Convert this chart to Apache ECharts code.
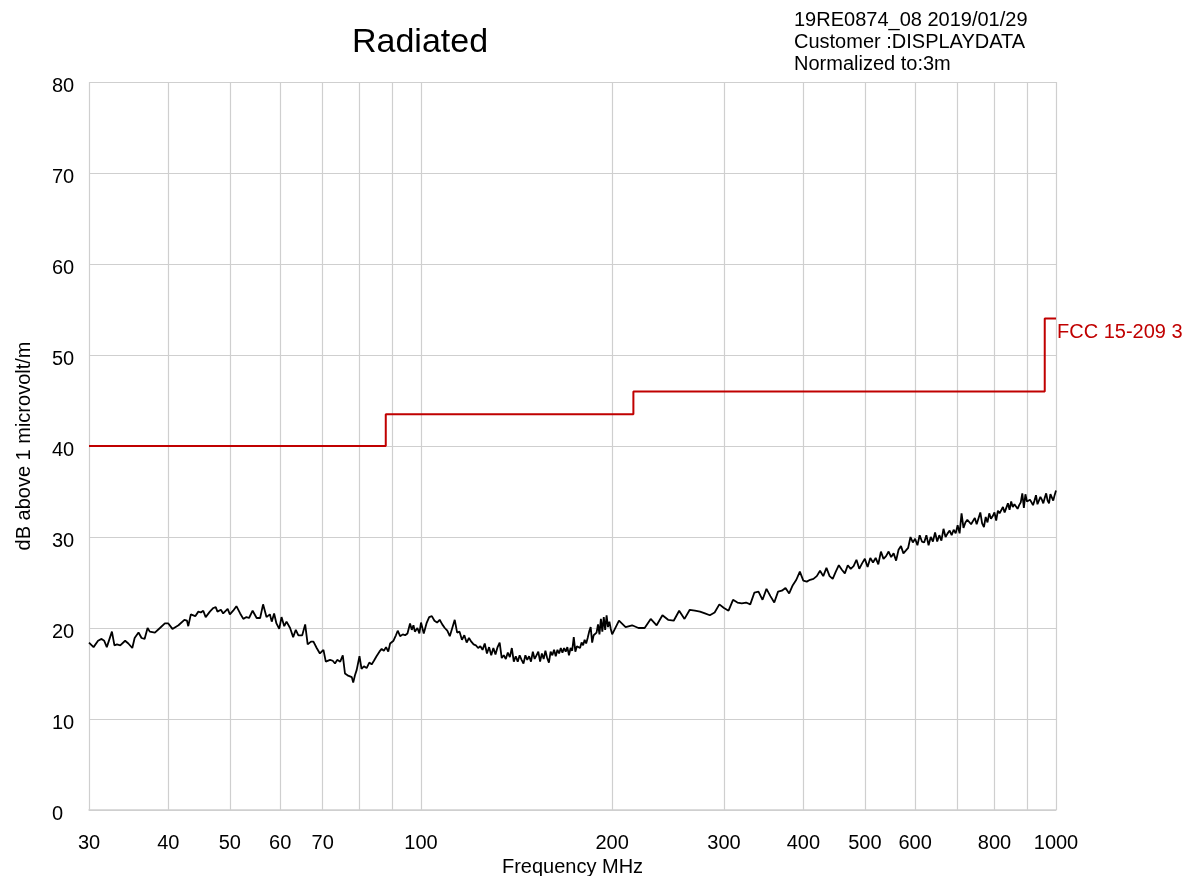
<!DOCTYPE html>
<html>
<head>
<meta charset="utf-8">
<title>Radiated</title>
<script src="https://cdn.jsdelivr.net/npm/echarts@6/dist/echarts.min.js"></script>
<style>
  html, body { margin: 0; padding: 0; background: #fff; }
  #chart { width: 1183px; height: 876px; }
</style>
</head>
<body>
<div id="chart"></div>
<script>
// 30-100 MHz, [MHz, dBuV/m] read at each visible peak / dip
const lowTrace = [
  [30.0, 18.4], [30.5, 17.9], [31.0, 18.6], [31.4, 18.8], [31.7, 18.6], [32.0, 17.9],
  [32.6, 19.6], [32.9, 18.1], [33.2, 18.2], [33.6, 18.1], [33.8, 17.9], [34.2, 18.6],
  [34.6, 18.3], [35.1, 17.8], [35.4, 18.9], [35.9, 19.5], [36.3, 18.9], [36.7, 18.8],
  [37.1, 20.0], [37.4, 19.6], [38.1, 19.5], [38.8, 20.0], [39.5, 20.5], [40.0, 20.5],
  [40.6, 19.9], [41.5, 20.3], [42.4, 20.9], [42.8, 20.8], [43.0, 20.2], [43.4, 21.5],
  [44.1, 21.3], [44.6, 21.8], [45.0, 21.7], [45.4, 21.9], [45.8, 21.2], [46.5, 21.8],
  [47.1, 22.2], [47.5, 22.3], [47.8, 21.8], [48.4, 22.0], [48.8, 21.6], [49.6, 22.1],
  [50.0, 21.5], [50.6, 21.9], [51.2, 22.4], [51.9, 21.6], [52.5, 21.0], [53.1, 21.2],
  [53.6, 21.1], [54.3, 21.9], [55.1, 21.1], [55.8, 21.1], [56.4, 22.6], [57.1, 21.2],
  [57.8, 21.5], [58.2, 20.7], [58.7, 21.6], [59.2, 20.5], [59.8, 19.9], [60.3, 21.2],
  [60.9, 20.2], [61.4, 20.7], [62.2, 20.0], [62.9, 19.0], [63.5, 19.8], [64.1, 19.2],
  [65.0, 19.2], [65.7, 20.4], [66.3, 18.2], [67.1, 18.5], [67.7, 18.5], [68.5, 17.8],
  [69.3, 17.2], [70.2, 17.6], [70.8, 16.3], [71.9, 16.5], [72.6, 16.4], [73.2, 16.1],
  [73.8, 16.5], [74.6, 16.3], [75.3, 17.0], [75.9, 15.0], [76.6, 14.8], [77.1, 14.9],
  [77.8, 14.6], [78.2, 14.0], [78.7, 14.8], [79.2, 15.4], [80.0, 16.9], [80.6, 15.5],
  [81.3, 15.8], [82.1, 15.6], [82.9, 16.2], [83.6, 16.0], [84.3, 16.4], [85.1, 16.9],
  [86.0, 17.4], [86.7, 17.7], [87.4, 17.5], [88.1, 17.9], [88.8, 17.4], [89.4, 18.3],
  [90.5, 18.6], [91.3, 19.2], [91.9, 19.7], [92.7, 19.1], [93.6, 19.3], [94.4, 19.2],
  [95.2, 19.4], [96.1, 20.5], [96.7, 19.8], [97.3, 20.3], [97.8, 19.6], [98.7, 20.0],
  [99.4, 19.4]
]

// 100-199 MHz, one reading per MHz
const midStart = 100
const midStep = 1
const midLevel = [
  20.6, 19.4, 20.5, 21.2, 21.3, 20.8, 20.6, 20.9, 20.4, 20.0,
  19.7, 19.1, 20.0, 20.9, 19.5, 19.6, 18.7, 19.2, 18.4, 18.9,
  18.5, 18.2, 18.1, 17.8, 18.0, 17.6, 18.3, 17.2, 17.9, 17.0,
  17.8, 17.1, 17.9, 18.4, 16.7, 17.0, 16.6, 17.3, 16.8, 17.8,
  16.3, 16.9, 16.3, 17.0, 16.5, 16.1, 17.0, 16.5, 16.9, 16.3,
  17.4, 16.6, 17.0, 17.4, 16.3, 17.2, 16.6, 17.5, 16.7, 16.2,
  17.4, 17.0, 17.6, 16.9, 17.6, 17.2, 17.8, 17.3, 17.8, 17.4,
  17.9, 17.0, 17.8, 17.5, 19.0, 17.4, 18.0, 17.8, 17.8, 18.4,
  18.1, 18.7, 18.3, 18.9, 19.6, 20.1, 18.4, 19.2, 19.0, 19.5,
  20.4, 19.3, 21.0, 19.6, 21.2, 19.8, 21.4, 20.1, 20.7, 19.9
]

// 200-1000 MHz, one reading per 5 MHz
const highStart = 200
const highStep = 5
const highLevel = [
  19.3, 20.8, 20.1, 20.3, 20.0, 20.0, 21.0, 20.3, 21.4, 20.9,
  20.8, 21.9, 21.0, 22.0, 21.9, 21.8, 21.6, 21.4, 21.7, 22.6,
  22.2, 21.9, 23.1, 22.8, 22.7, 22.8, 22.6, 23.9, 24.0, 23.1,
  24.3, 23.5, 22.8, 24.0, 24.1, 24.4, 23.8, 24.7, 25.3, 26.2,
  25.2, 25.1, 25.3, 25.4, 25.7, 26.3, 25.7, 26.6, 25.7, 25.4,
  26.2, 26.9, 26.4, 26.0, 26.9, 26.5, 26.8, 27.5, 26.5, 27.1,
  27.6, 26.7, 27.7, 27.2, 27.7, 27.0, 28.4, 27.6, 27.9, 28.4,
  27.8, 28.2, 27.4, 28.6, 29.0, 28.2, 28.5, 28.8, 30.0, 29.4,
  29.8, 29.1, 30.2, 29.5, 29.4, 30.2, 29.1, 30.0, 29.5, 30.5,
  29.5, 30.2, 29.6, 30.9, 30.0, 30.4, 30.7, 30.2, 30.8, 30.4,
  31.3, 30.4, 32.6, 31.0, 31.6, 31.9, 31.7, 31.4, 31.5, 32.1,
  31.4, 31.6, 32.7, 31.5, 31.1, 32.2, 31.6, 32.6, 32.0, 32.3,
  32.7, 31.8, 32.9, 32.6, 32.5, 33.3, 32.7, 33.2, 33.7, 33.0,
  33.9, 33.3, 33.6, 33.7, 33.1, 33.5, 33.8, 34.8, 33.2, 34.7,
  33.9, 33.7, 34.1, 34.3, 33.5, 34.0, 34.6, 33.6, 33.4, 34.4,
  34.1, 33.7, 34.3, 34.8, 34.0, 33.7, 34.7, 34.9, 34.0, 34.6,
  35.1
]

// FCC 15-209 limit, 3 m
const limitFreq = [30, 88, 88, 216, 216, 960, 960, 1000]
const limitLevel = [40, 40, 43.5, 43.5, 46, 46, 54, 54]

// vertical grid lines and the ones that get a label
const gridFreq = [30, 40, 50, 60, 70, 80, 90, 100, 200, 300, 400, 500, 600, 700, 800, 900, 1000]
const labelFreq = [30, 40, 50, 60, 70, 100, 200, 300, 400, 500, 600, 800, 1000]

const font = 'Liberation Sans, Arial, sans-serif'
const gridColor = '#cfcfcf'

const trace = lowTrace
  .concat(midLevel.map((v, i) => [midStart + i * midStep, v]))
  .concat(highLevel.map((v, i) => [highStart + i * highStep, v]))
const limit = limitFreq.map((f, i) => [f, limitLevel[i]])

const chart = echarts.init(document.getElementById('chart'))
chart.setOption({
  animation: false,
  textStyle: { fontFamily: font, color: '#000' },
  title: [
    {
      text: 'Radiated',
      left: 352,
      top: 26,
      padding: 0,
      textStyle: { fontFamily: font, fontSize: 34, fontWeight: 'normal', color: '#000' }
    },
    {
      text: '19RE0874_08 2019/01/29\nCustomer :DISPLAYDATA\nNormalized to:3m',
      left: 794,
      top: 9,
      padding: 0,
      textStyle: { fontFamily: font, fontSize: 20, lineHeight: 22, fontWeight: 'normal', color: '#000' }
    }
  ],
  grid: { left: 89, right: 127, top: 82, bottom: 66, outerBoundsMode: 'none', containLabel: false },
  xAxis: {
    type: 'log',
    logBase: 10,
    min: 30,
    max: 1000,
    name: 'Frequency MHz',
    nameLocation: 'middle',
    nameGap: 42,
    nameTextStyle: { fontFamily: font, fontSize: 20, color: '#000' },
    axisLine: { show: true, lineStyle: { color: gridColor, width: 1.5 } },
    axisTick: { show: false, customValues: gridFreq },
    splitLine: { show: true, lineStyle: { color: gridColor, width: 1.2 } },
    axisLabel: {
      customValues: labelFreq,
      margin: 23,
      fontFamily: font,
      fontSize: 20,
      color: '#000',
      formatter: v => String(Math.round(v))
    }
  },
  yAxis: {
    type: 'value',
    min: 0,
    max: 80,
    interval: 10,
    name: 'dB above 1 microvolt/m',
    nameLocation: 'middle',
    nameGap: 55,
    nameTextStyle: { fontFamily: font, fontSize: 20, color: '#000' },
    axisLine: { show: false },
    axisTick: { show: false },
    splitLine: { show: true, lineStyle: { color: gridColor, width: 1.2 } },
    axisLabel: {
      margin: 37,
      align: 'left',
      verticalAlign: 'top',
      lineHeight: 8,
      fontFamily: font,
      fontSize: 20,
      color: '#000'
    }
  },
  series: [
    {
      name: 'FCC 15-209 3m',
      type: 'line',
      data: limit,
      showSymbol: false,
      lineStyle: { color: '#c00000', width: 2 },
      itemStyle: { color: '#c00000' },
      endLabel: {
        show: true,
        formatter: 'FCC 15-209 3m',
        distance: 1,
        offset: [0, 14],
        fontFamily: font,
        fontSize: 20,
        color: '#c00000'
      }
    },
    {
      name: 'Radiated',
      type: 'line',
      data: trace,
      showSymbol: false,
      lineStyle: { color: '#000', width: 1.8 },
      itemStyle: { color: '#000' }
    }
  ]
})
</script>
</body>
</html>
